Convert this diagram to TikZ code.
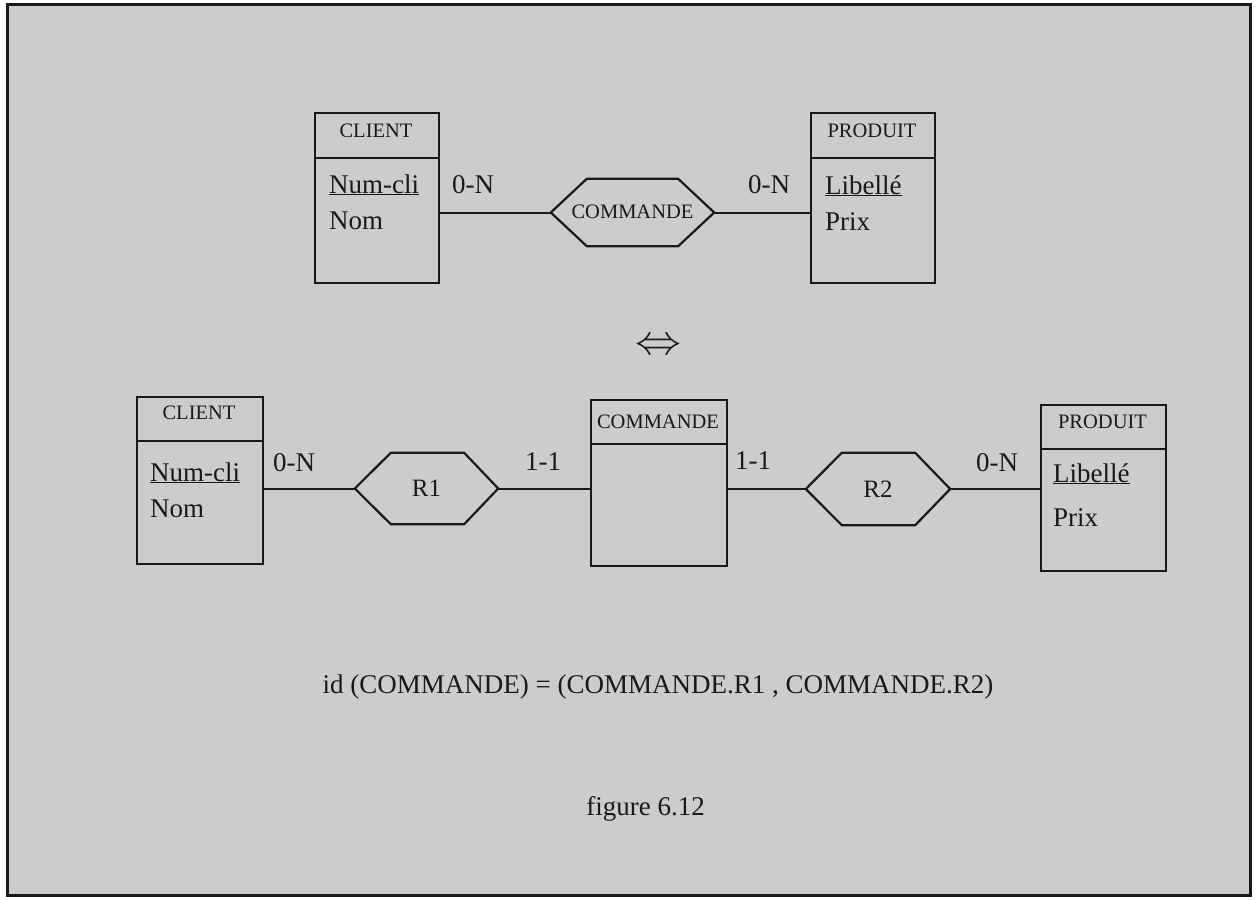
\documentclass[tikz,border=0pt]{standalone}
\usepackage{fontspec}
\usepackage{graphicx}
\setmainfont{Liberation Serif}
\usetikzlibrary{calc}
\definecolor{bgc}{RGB}{204,204,204}
\definecolor{ink}{RGB}{25,25,25}
\tikzset{
  entbox/.style={draw=ink, line width=2pt, anchor=north west, inner sep=0pt, minimum width=#1},
  hdr/.style={font=\fontsize{20.5}{24}\selectfont, text=ink, inner sep=0pt},
  attr/.style={font=\fontsize{27}{32}\selectfont, text=ink, inner sep=0pt, anchor=base west},
  card/.style={font=\fontsize{27}{32}\selectfont, text=ink, inner sep=0pt, anchor=base west},
  hexlbl/.style={inner sep=0pt, text=ink},
  conn/.style={draw=ink, line width=2pt},
  hexline/.style={draw=ink, line width=2.2pt, line join=miter},
}
\begin{document}
\begin{tikzpicture}[x=1pt,y=-1pt]
\useasboundingbox (0,0) rectangle (1257,899);
\fill[white] (0,0) rectangle (1257,899);
\fill[bgc] (7,5) rectangle (1250,895);
\draw[ink, line width=3pt] (7,5) rectangle (1250,895);

% ---------- top diagram ----------
\node[entbox=124pt, minimum height=170pt] (tc) at (314,112) {};
\draw[ink, line width=2pt] (314,158) -- (438,158);
\node[hdr] (tct) at (376,131) {CLIENT};
\node[attr] (tc1) at (329,193) {\underline{Num-cli}};
\node[attr] (tc2) at (329,229) {Nom};

\node[entbox=124pt, minimum height=170pt] (tp) at (810,112) {};
\draw[ink, line width=2pt] (810,158) -- (934,158);
\node[hdr] (tpt) at (872,131) {PRODUIT};
\node[attr] (tp1) at (825,194) {\underline{Libellé}};
\node[attr] (tp2) at (825,230) {Prix};

\node[hexlbl, minimum width=163pt, minimum height=67pt] (th) at (632.5,212.5) {};
\node[hdr] (tht) at (632.5,212) {COMMANDE};
\draw[hexline] (th.west) -- ($(th.north west)+(36,0)$) -- ($(th.north east)+(-36,0)$) -- (th.east)
  -- ($(th.south east)+(-36,0)$) -- ($(th.south west)+(36,0)$) -- cycle;

\draw[conn] (th.west -| tc.east) -- (th.west);
\draw[conn] (th.east) -- (th.east -| tp.west);
\node[card] (tl1) at (452,193) {0-N};
\node[card] (tl2) at (748,193) {0-N};

% equivalence
\node[inner sep=0pt, text=ink] (eqv) at (658,347) {\scalebox{4.6}[4.2]{$\Leftrightarrow$}};

% ---------- bottom diagram ----------
\node[entbox=126pt, minimum height=167pt] (bc) at (136,396) {};
\draw[ink, line width=2pt] (136,441) -- (262,441);
\node[hdr] (bct) at (199,413) {CLIENT};
\node[attr] (bc1) at (150,481) {\underline{Num-cli}};
\node[attr] (bc2) at (150,517) {Nom};

\node[entbox=136pt, minimum height=166pt] (bm) at (590,399) {};
\draw[ink, line width=2pt] (590,444) -- (726,444);
\node[hdr] (bmt) at (658,422) {COMMANDE};

\node[entbox=125pt, minimum height=166pt] (bp) at (1040,404) {};
\draw[ink, line width=2pt] (1040,449) -- (1165,449);
\node[hdr] (bpt) at (1102.5,422) {PRODUIT};
\node[attr] (bp1) at (1053,482) {\underline{Libellé}};
\node[attr] (bp2) at (1053,526) {Prix};

\node[hexlbl, minimum width=143pt, minimum height=71pt, font=\fontsize{25}{30}\selectfont] (r1) at (426.5,488.5) {R1};
\draw[hexline] (r1.west) -- ($(r1.north west)+(36,0)$) -- ($(r1.north east)+(-34,0)$) -- (r1.east)
  -- ($(r1.south east)+(-34,0)$) -- ($(r1.south west)+(36,0)$) -- cycle;

\node[hexlbl, minimum width=144pt, minimum height=72pt, font=\fontsize{25}{30}\selectfont] (r2) at (878,489) {R2};
\draw[hexline] (r2.west) -- ($(r2.north west)+(36,0)$) -- ($(r2.north east)+(-35,0)$) -- (r2.east)
  -- ($(r2.south east)+(-35,0)$) -- ($(r2.south west)+(36,0)$) -- cycle;

\draw[conn] (r1.west -| bc.east) -- (r1.west);
\draw[conn] (r1.east) -- (r1.east -| bm.west);
\draw[conn] (r2.west -| bm.east) -- (r2.west);
\draw[conn] (r2.east) -- (r2.east -| bp.west);

\node[card] (bl1) at (273,471) {0-N};
\node[card] (bl2) at (525,470) {1-1};
\node[card] (bl3) at (735,469) {1-1};
\node[card] (bl4) at (976,471) {0-N};

% ---------- texts ----------
\node[inner sep=0pt, text=ink, anchor=base, font=\fontsize{27}{32}\selectfont] (idf) at (658,693) {id (COMMANDE) = (COMMANDE.R1 , COMMANDE.R2)};
\node[inner sep=0pt, text=ink, anchor=base, font=\fontsize{27}{32}\selectfont] (fig) at (645.5,815) {figure 6.12};
\end{tikzpicture}
\end{document}
